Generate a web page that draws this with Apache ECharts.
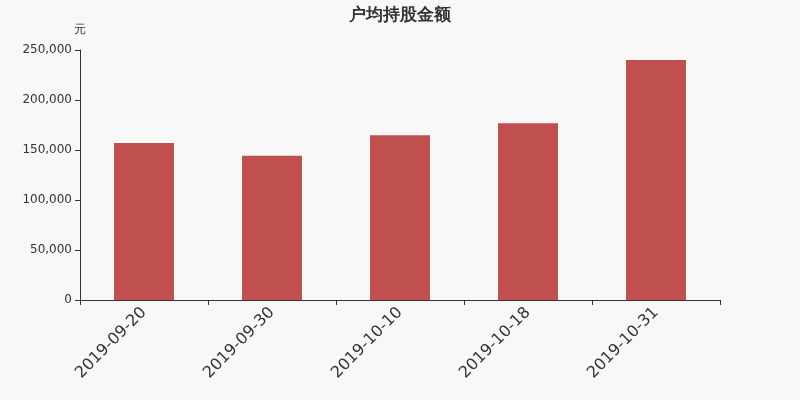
<!DOCTYPE html>
<html>
<head>
<meta charset="utf-8">
<script src="https://cdn.jsdelivr.net/npm/echarts@6/dist/echarts.min.js"></script>
<style>
  html, body { margin: 0; padding: 0; background: #f8f8f8; }
  #chart { width: 800px; height: 400px; }
</style>
</head>
<body>
<div id="chart"></div>
<script>
'use strict';

var categories = ['2019-09-20', '2019-09-30', '2019-10-10', '2019-10-18', '2019-10-31'];
var amounts = [157000, 144300, 164700, 176700, 240000];
var yTicks = { min: 0, max: 250000, interval: 50000 };

var chart = echarts.init(document.getElementById('chart'));

chart.setOption({
    backgroundColor: '#f8f8f8',
    animation: false,
    textStyle: { fontFamily: 'DejaVu Sans' },
    title: {
        text: '户均持股金额',
        left: 'center',
        top: 2,
        textStyle: { fontSize: 17, fontWeight: 'bold', color: '#333', fontFamily: 'DejaVu Sans' }
    },
    grid: { left: 80, right: 80, top: 50, bottom: 100 },
    xAxis: {
        type: 'category',
        data: categories,
        axisLine: { lineStyle: { color: '#333' } },
        axisTick: { show: true, alignWithLabel: false, length: 5, lineStyle: { color: '#333' } },
        axisLabel: { rotate: 45, fontSize: 16, color: '#333', margin: 10 }
    },
    yAxis: {
        type: 'value',
        name: '元',
        nameGap: 14,
        nameTextStyle: { color: '#333', fontSize: 12, align: 'center' },
        min: yTicks.min,
        max: yTicks.max,
        interval: yTicks.interval,
        splitLine: { show: false },
        axisLine: { show: true, lineStyle: { color: '#333' } },
        axisTick: { show: true, length: 5, lineStyle: { color: '#333' } },
        axisLabel: {
            color: '#333',
            fontSize: 12,
            margin: 8,
            formatter: function (v) { return v.toLocaleString('en-US'); }
        }
    },
    series: [{
        type: 'bar',
        data: amounts,
        barWidth: 60,
        itemStyle: { color: '#c0504d' }
    }]
});
</script>
</body>
</html>
